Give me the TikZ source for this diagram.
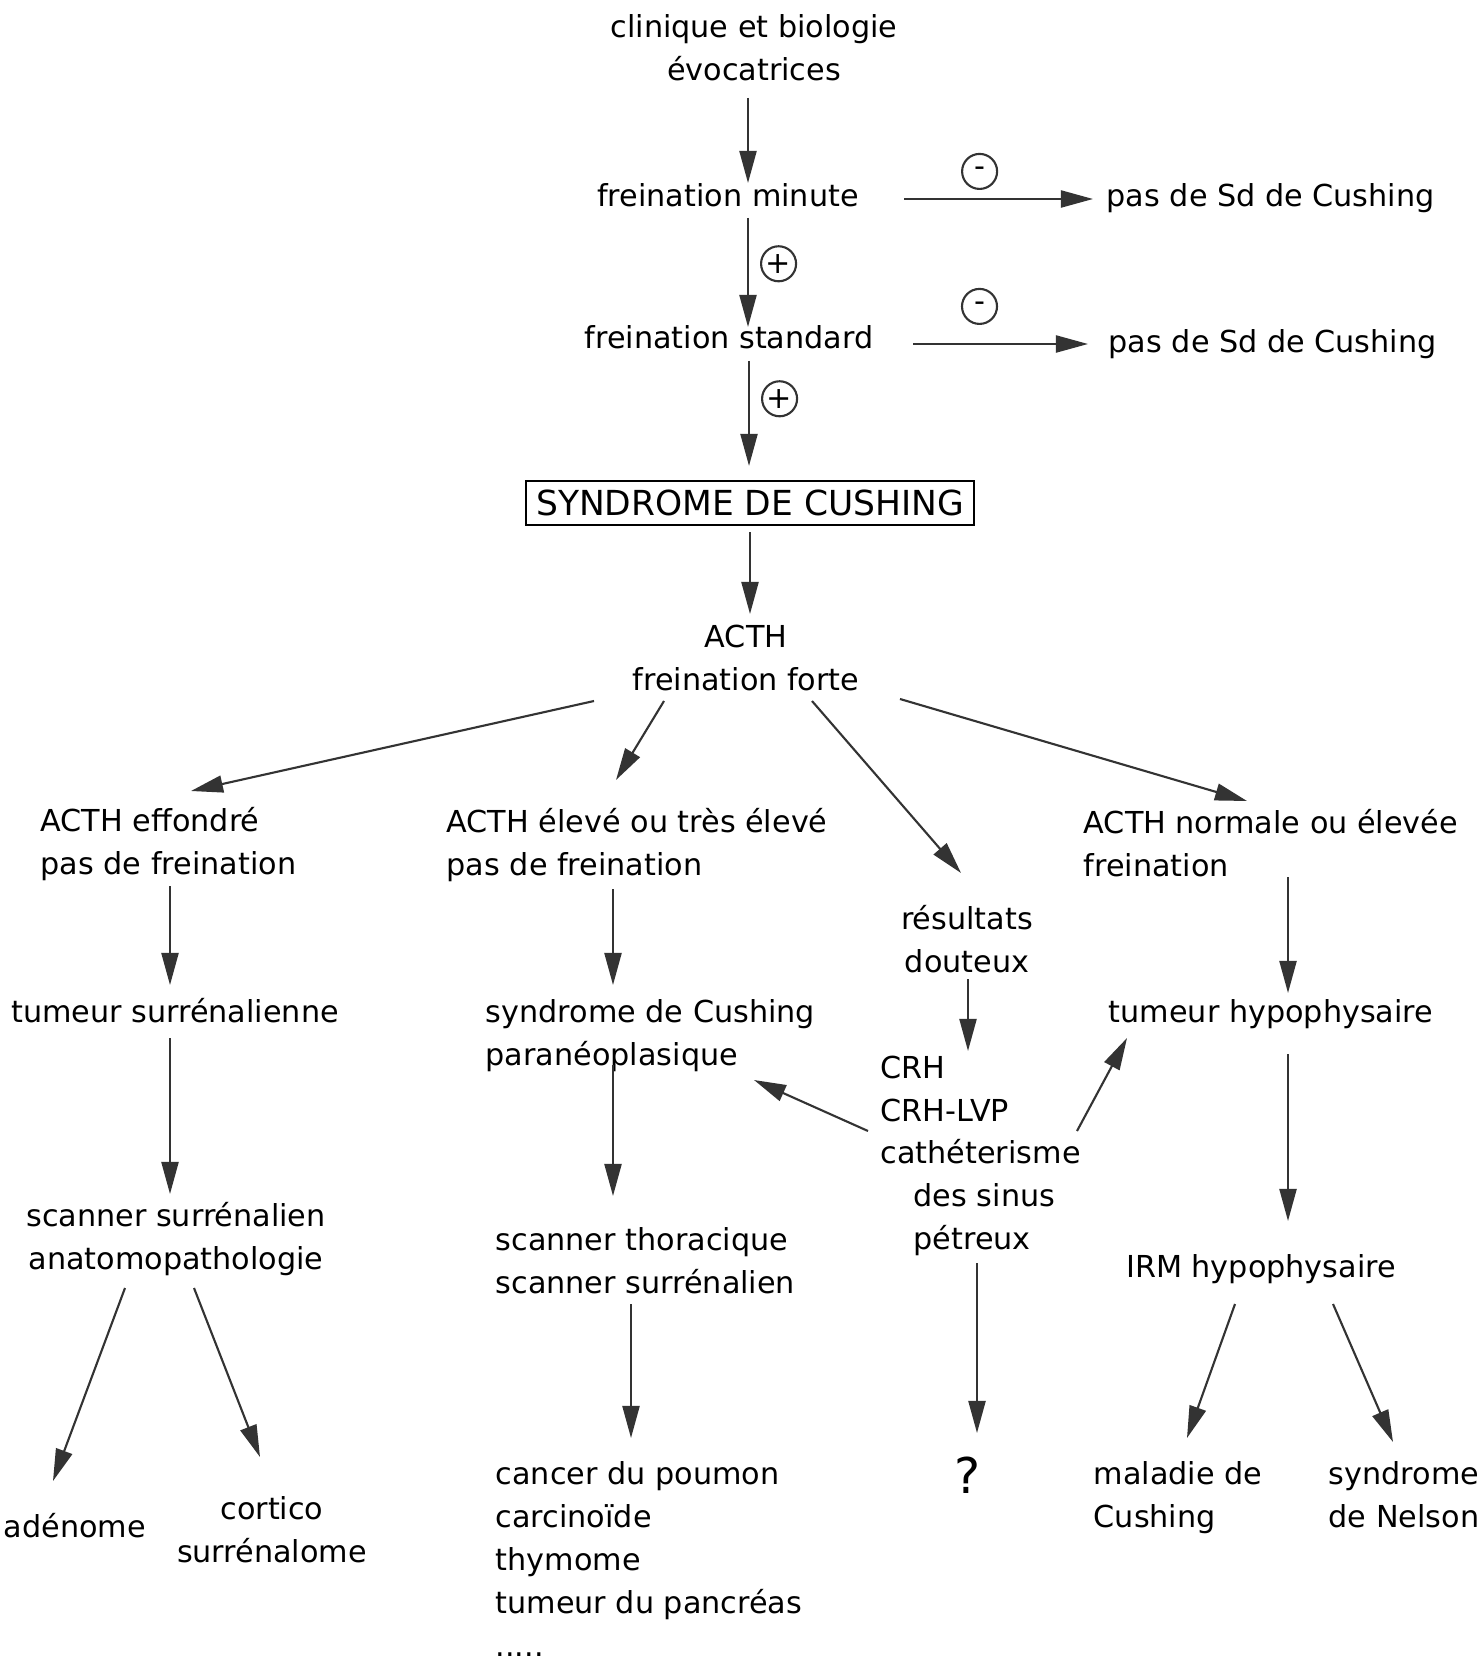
\documentclass[tikz,border=0pt]{standalone}
\usepackage{fontspec}
\setmainfont{DejaVu Sans}
\usetikzlibrary{arrows.meta,positioning}

\begin{document}
\begin{tikzpicture}[x=0.01cm,y=-0.01cm,
  every node/.style={font=\fontsize{8.6}{12.2}\selectfont,inner sep=0pt},
  fleche/.style={-{Triangle[length=.32cm,width=.17cm]},draw=black!80,
    line width=.6pt},
  signe/.style={draw,circle,minimum size=.35cm,inner sep=0pt,line width=.6pt,
    font=\fontsize{8.6}{8.6}\selectfont},
  cadre/.style={draw,line width=.6pt,inner xsep=.1cm,minimum height=.44cm,
    font=\fontsize{9.8}{12}\selectfont}]
 \path[use as bounding box,fill=white] (0,0) rectangle (1482,1664);
 % haut : diagnostic positif
 \node[anchor=north,align=center] (clin) at (754,14)
   {clinique et biologie\\évocatrices};
 \node[anchor=base] (fmin) at (728,207) {freination minute};
 \node[anchor=base west] (pas1) at (1106,207) {pas de Sd de Cushing};
 \node[anchor=base] (fstd) at (729,349) {freination standard};
 \node[anchor=base west] (pas2) at (1108,353) {pas de Sd de Cushing};
 \node[cadre] (syn) at (750,503) {SYNDROME DE CUSHING};
 \node[anchor=north,align=center] (acth) at (746,624)
   {ACTH\\freination forte};
 % les quatre branches
 \node[anchor=north west,align=left] (eff) at (40,807)
   {ACTH effondré\\pas de freination};
 \node[anchor=north west,align=left] (elev) at (446,808)
   {ACTH élevé ou très élevé\\pas de freination};
 \node[anchor=north,align=center] (dout) at (967,905) {résultats\\douteux};
 \node[anchor=north west,align=left] (norm) at (1083,809)
   {ACTH normale ou élevée\\freination};
 % colonne surrénale
 \node[anchor=base] (tsur) at (175,1022) {tumeur surrénalienne};
 \node[anchor=north,align=center] (scs) at (176,1202)
   {scanner surrénalien\\anatomopathologie};
 \node[anchor=base west] (aden) at (3,1537) {adénome};
 \node[anchor=north,align=center] (cort) at (272,1496)
   {cortico\\surrénalome};
 % colonne ectopique
 \node[anchor=north west,align=left] (para) at (485,999)
   {syndrome de Cushing\\paranéoplasique};
 \node[anchor=north west,align=left] (scth) at (495,1227)
   {scanner thoracique\\scanner surrénalien};
 \node[anchor=north west,align=left] (canc) at (495,1461)
   {cancer du poumon\\carcinoïde\\thymome\\tumeur du pancréas\\.....};
 % tests dynamiques
 \node[anchor=north west,align=left] (cath) at (880,1055)
   {CRH\\CRH-LVP\\cathéterisme\\\hspace*{.33cm}des sinus\\\hspace*{.33cm}pétreux};
 \node[anchor=base,font=\fontsize{14}{16}\selectfont] (quest) at (968,1493) {?};
 % colonne hypophyse
 \node[anchor=base] (tuh) at (1271,1022) {tumeur hypophysaire};
 \node[anchor=base] (irm) at (1261,1277) {IRM hypophysaire};
 \node[anchor=north west,align=left] (mal) at (1093,1461)
   {maladie de\\Cushing};
 \node[anchor=north west,align=left] (nel) at (1328,1461)
   {syndrome\\de Nelson};

 \draw[fleche] ([shift={(-6,84)}]clin.north) -- ([shift={(20,-24)}]fmin.base);
 \draw[fleche] ([shift={(176,-8)}]fmin.base)
   -- node[signe,above=.09cm,pos=.4] (moins1) {-} ([shift={(-13,-8)}]pas1.base west);
 \draw[fleche] ([shift={(20,11)}]fmin.base)
   -- node[signe,right=.12cm,pos=.42] (plus1) {+} ([shift={(19,-22)}]fstd.base);
 \draw[fleche] ([shift={(184,-5)}]fstd.base)
   -- node[signe,above=.19cm,pos=.38] (moins2) {-} ([shift={(-20,-9)}]pas2.base west);
 \draw[fleche] ([shift={(20,12)}]fstd.base)
   -- node[signe,right=.12cm,pos=.36] (plus2) {+} ([shift={(-1,-14)}]syn.north);
 \draw[fleche] ([shift={(0,6)}]syn.south) -- ([shift={(4,-10)}]acth.north);
 \draw[fleche] ([shift={(-152,77)}]acth.north) -- ([shift={(151,-16)}]eff.north west);
 \draw[fleche] ([shift={(-82,77)}]acth.north) -- ([shift={(170,-28)}]elev.north west);
 \draw[fleche] ([shift={(66,77)}]acth.north) -- ([shift={(-6,-32)}]dout.north);
 \draw[fleche] ([shift={(154,75)}]acth.north) -- ([shift={(164,-8)}]norm.north west);
 \draw[fleche] ([shift={(130,79)}]eff.north west) -- ([shift={(-5,-37)}]tsur.base);
 \draw[fleche] ([shift={(-5,16)}]tsur.base) -- ([shift={(-6,-8)}]scs.north);
 \draw[fleche] ([shift={(-51,86)}]scs.north) -- ([shift={(50,-56)}]aden.base west);
 \draw[fleche] ([shift={(18,86)}]scs.north) -- ([shift={(-12,-39)}]cort.north);
 \draw[fleche] ([shift={(167,81)}]elev.north west) -- ([shift={(128,-14)}]para.north west);
 \draw[fleche] ([shift={(128,66)}]para.north west) -- ([shift={(118,-31)}]scth.north west);
 \draw[fleche] ([shift={(136,77)}]scth.north west) -- ([shift={(136,-23)}]canc.north west);
 \draw[fleche] ([shift={(1,74)}]dout.north) -- ([shift={(88,-4)}]cath.north west);
 \draw[fleche] ([shift={(-12,76)}]cath.north west) -- ([shift={(269,81)}]para.north west);
 \draw[fleche] ([shift={(197,76)}]cath.north west) -- ([shift={(-144,16)}]tuh.base);
 \draw[fleche] ([shift={(97,208)}]cath.north west) -- ([shift={(9,-60)}]quest.base);
 \draw[fleche] ([shift={(205,68)}]norm.north west) -- ([shift={(17,-29)}]tuh.base);
 \draw[fleche] ([shift={(17,32)}]tuh.base) -- ([shift={(27,-56)}]irm.base);
 \draw[fleche] ([shift={(-26,27)}]irm.base) -- ([shift={(94,-23)}]mal.north west);
 \draw[fleche] ([shift={(72,27)}]irm.base) -- ([shift={(65,-19)}]nel.north west);
\end{tikzpicture}
\end{document}
